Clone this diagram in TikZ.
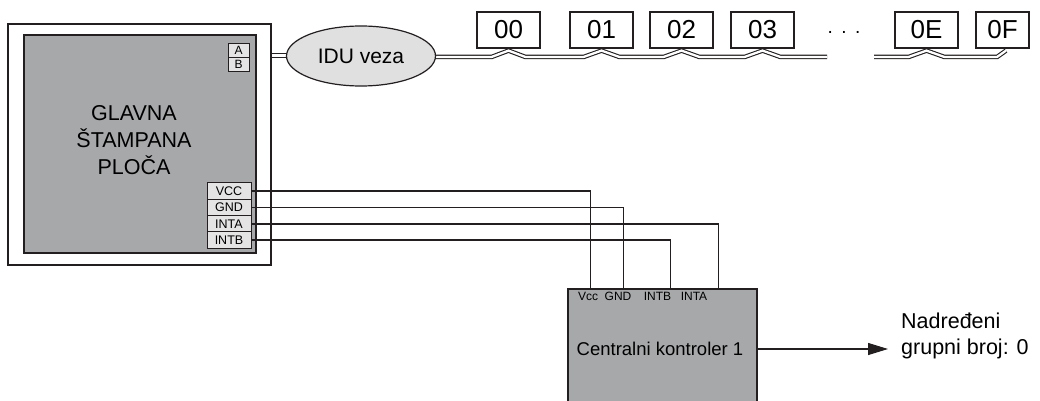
\documentclass[tikz,border=0pt]{standalone}
\usepackage{fontspec}
\setmainfont{Liberation Sans}
\usetikzlibrary{arrows.meta,shapes.geometric}
\definecolor{boardgray}{HTML}{A7A8AA}
\definecolor{portgray}{HTML}{E4E4E5}
\definecolor{ellgray}{HTML}{E0E0E1}
\definecolor{ink}{HTML}{231F20}
\pgfdeclarelayer{bg}
\pgfdeclarelayer{buslayer}
\pgfsetlayers{bg,buslayer,main}
\begin{document}
\begin{tikzpicture}[x=1pt,y=-1pt,line join=miter,
  port/.style={draw=ink,fill=portgray,line width=0.9pt,minimum width=21pt,minimum height=14pt,inner sep=0pt,font=\fontsize{12}{12}\selectfont},
  sigport/.style={port,minimum width=44pt,minimum height=16.3pt,font=\fontsize{12.5}{12.5}\selectfont},
  idbox/.style={draw=ink,fill=white,line width=1.2pt,minimum width=63pt,minimum height=36pt,inner sep=0pt,font=\fontsize{26}{26}\selectfont},
  bus/.style={draw=ink,double=white,line width=1.1pt,double distance=2.3pt},
  wire/.style={draw=ink,line width=1.1pt},
  board/.style={draw=ink,fill=boardgray,line width=1.5pt,inner sep=0pt},
  pinlabel/.style={inner sep=0pt,font=\fontsize{12}{12}\selectfont}
]
\useasboundingbox (0,0) rectangle (1040,401);
\begin{pgfonlayer}{bg}
\fill[white] (0,0) rectangle (1040,401);
\end{pgfonlayer}

% main board
\node[draw=ink,fill=white,line width=1.1pt,minimum width=263pt,minimum height=241pt,inner sep=0pt] (outer) at (139.5,144.5) {};
\node[board,minimum width=232pt,minimum height=218pt] (inner) at (140,144) {};
\node[align=center,inner sep=0pt,font=\fontsize{21.5}{27}\selectfont] (mainlbl) at (134,140) {GLAVNA\\ŠTAMPANA\\PLOČA};

\node[port] (pA) at (238.5,50) {A};
\node[port] (pB) at (238.5,64) {B};

\node[sigport] (vcc) at (229,191) {VCC};
\node[sigport] (gnd) at (229,207.5) {GND};
\node[sigport] (inta) at (229,224) {INTA};
\node[sigport] (intb) at (229,240) {INTB};

% controller
\node[board,minimum width=189pt,minimum height=120pt] (ctrl) at (662.5,349) {};
\node[inner sep=0pt,font=\fontsize{18.5}{18.5}\selectfont] (ctrllbl) at (660,349) {Centralni kontroler 1};
\node[pinlabel] (lvcc) at (588,296) {Vcc};
\node[pinlabel] (lgnd) at (618,296) {GND};
\node[pinlabel] (lintb) at (657.5,296) {INTB};
\node[pinlabel] (linta) at (694,296) {INTA};

% wires
\draw[wire] (vcc.east) -| ([xshift=23pt]ctrl.north west);
\draw[wire] (gnd.east) -| ([xshift=56pt]ctrl.north west);
\draw[wire] (inta.east) -| ([xshift=151pt]ctrl.north west);
\draw[wire] (intb.east) -| ([xshift=103pt]ctrl.north west);

% output
\node[anchor=west,align=left,inner sep=0pt,font=\fontsize{21.5}{26}\selectfont] (out) at (901,336) {Nadređeni\\grupni broj: 0};
\coordinate (tip) at (888,349);
\draw[wire,-{Triangle[length=20pt,width=12pt]}] (ctrl.east) -- (tip);

% IDU bus
\coordinate (busY) at (0,57);
\node[idbox] (b00) at (508.5,30) {00};
\node[idbox] (b01) at (601.5,30) {01};
\node[idbox] (b02) at (681.5,30) {02};
\node[idbox] (b03) at (762.5,30) {03};
\node[idbox] (b0E) at (926.5,30) {0E};
\node[idbox,minimum width=53pt] (b0F) at (1002.5,30) {0F};
\node[anchor=base,inner sep=0pt,font=\fontsize{19}{19}\selectfont] (dots) at (844,34) {.\hspace{8.5pt}.\hspace{8.5pt}.};
\coordinate (gapL) at (827,57);
\coordinate (gapR) at (874,57);

\begin{pgfonlayer}{buslayer}
\draw[bus] (361,57) -- ([xshift=-17pt]b00.south |- busY) -- ([yshift=-2pt]b00.south) -- ([xshift=17pt]b00.south |- busY)
  -- ([xshift=-18pt]b01.south |- busY) -- ([yshift=-2pt]b01.south) -- ([xshift=18pt]b01.south |- busY)
  -- ([xshift=-18pt]b02.south |- busY) -- ([yshift=-2pt]b02.south) -- ([xshift=18pt]b02.south |- busY)
  -- ([xshift=-18pt]b03.south |- busY) -- ([yshift=-2pt]b03.south) -- ([xshift=18pt]b03.south |- busY)
  -- (gapL);
\draw[bus] (gapR) -- ([xshift=-18pt]b0E.south |- busY) -- ([yshift=-2pt]b0E.south) -- ([xshift=18pt]b0E.south |- busY)
  -- ([xshift=-5.5pt]b0F.south |- busY) -- ([xshift=3.5pt,yshift=-2pt]b0F.south);
% A/B link
\coordinate (jA) at (259,53.5);
\coordinate (jB) at (259,57.5);
\draw[wire,line width=0.9pt] (pA.east) -- (jA) -- (300,53.5);
\draw[wire,line width=0.9pt] (pB.east) -- (jB) -- (300,57.5);
\end{pgfonlayer}

\node[ellipse,draw=ink,fill=ellgray,line width=1.2pt,minimum width=149pt,minimum height=60pt,inner sep=0pt,font=\fontsize{21}{21}\selectfont] (idu) at (361,56) {IDU veza};
\end{tikzpicture}
\end{document}
